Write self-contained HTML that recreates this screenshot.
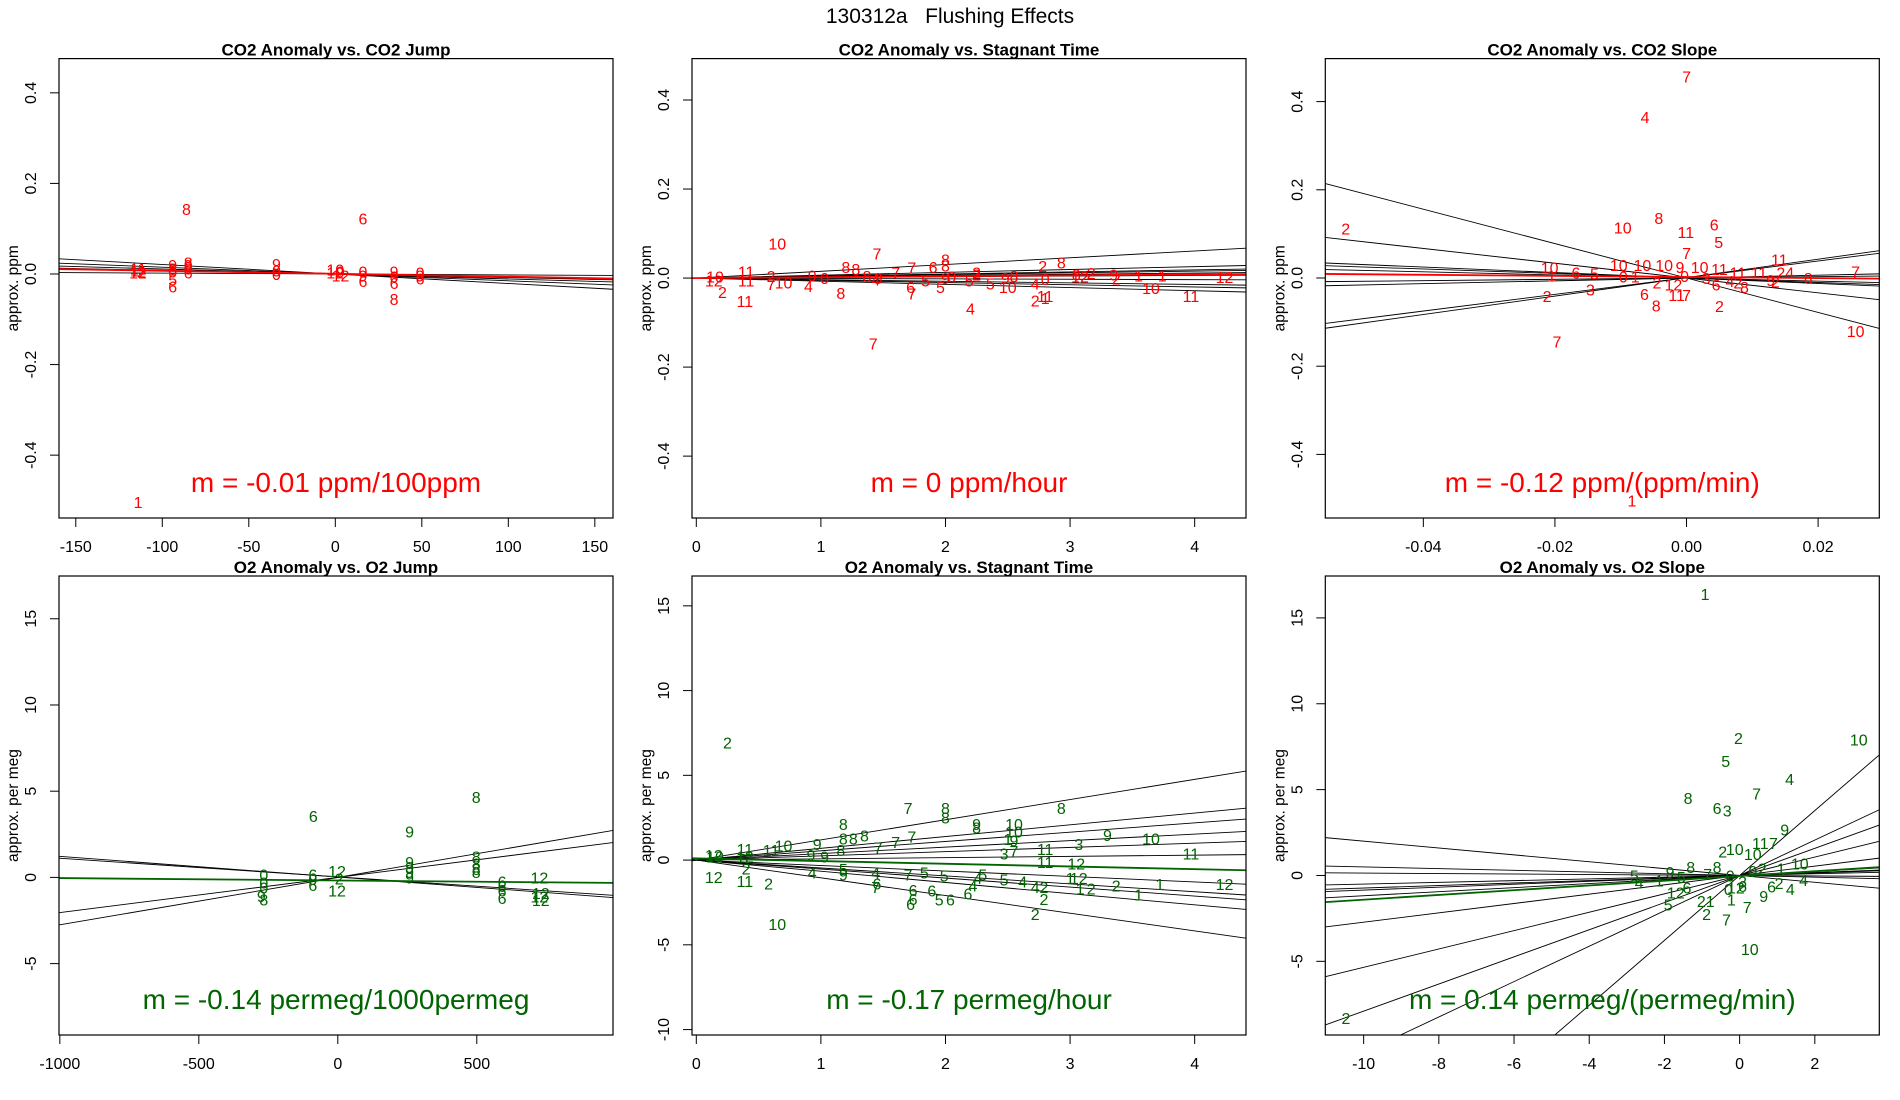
<!DOCTYPE html>
<html><head><meta charset="utf-8"><style>
html,body{margin:0;padding:0;background:#fff;width:1900px;height:1100px;overflow:hidden;}
svg{display:block;font-family:"Liberation Sans",sans-serif;}
</style></head><body>
<svg id="chart" width="1900" height="1100" viewBox="0 0 1900 1100" xmlns="http://www.w3.org/2000/svg">
<rect x="0" y="0" width="1900" height="1100" fill="#fff"/>
<text x="950" y="23" font-size="21" text-anchor="middle" style="white-space:pre">130312a   Flushing Effects</text>
</svg>
<script>
// ---- Panel 1: CO2 anomaly vs CO2 jump ----
const p1Labels=["1","8","6","8","6","5","11","12","2","1","8","9","0","9","0","6","8","9","0","0","12","10","9","12","9","6","0","9","0","6","9","0","6"];
const p1X=[-114,-86,16,34,-94,-94,-114,-114,-112,-116,-94,-94,-94,-85,-85,-85,-85,-34,-34,-34,0,0,3,3,16,16,16,34,34,34,49,49,49];
const p1Y=[-0.503,0.143,0.123,-0.055,-0.028,-0.012,0.012,0.003,0.006,0.008,0.012,0.02,0.005,0.02,0.012,0.003,0.025,0.022,0.008,0.0,0.003,0.01,0.005,-0.003,-0.003,-0.015,0.005,0.005,-0.005,-0.02,-0.003,0.003,-0.01];
const p1Slopes=[-0.00021,-0.00015,-0.00011,-0.00008,-0.00002];
const p1Ints=[0,0,0,0,0];
const p1Fit=[-0.000065,0.0005];
const p1XTicks=[-150,-100,-50,0,50,100,150];
const p1YTicks=[-0.4,-0.2,0.0,0.2,0.4];
const p1YTickLabels=["-0.4","-0.2","0.0","0.2","0.4"];

// ---- Panel 2: CO2 anomaly vs stagnant time ----
const p2Labels=["10","7","7","4","11","2","8","8","2","10","11","12","1","1","2","2","2","1","11","4","10","5","5","5","5","6","8","8","7","7","6","7","8","8","12","10","11","11","2","10","7","4","9","0","9","8","4","9","0","2","2","9","8","0","8","12","9"];
const p2X=[0.65,1.45,1.42,2.2,0.39,0.21,1.16,2.93,2.78,3.65,3.97,4.24,3.55,3.74,3.17,3.37,2.72,2.8,2.8,2.72,2.5,2.36,2.19,1.96,1.84,1.9,2.0,2.0,1.6,1.73,1.72,1.73,1.28,1.2,0.14,0.15,0.4,0.4,0.6,0.7,0.6,0.9,0.93,1.03,1.46,1.37,1.44,2.0,2.05,2.25,2.25,2.48,2.55,2.8,3.05,3.08,3.35];
const p2Y=[0.078,0.055,-0.147,-0.068,-0.052,-0.031,-0.034,0.035,0.027,-0.022,-0.04,0.002,0.006,0.006,0.011,-0.001,-0.05,-0.045,-0.04,-0.012,-0.02,-0.012,-0.005,-0.02,-0.005,0.025,0.042,0.028,0.013,-0.035,-0.02,0.024,0.02,0.025,-0.005,0.003,0.015,-0.005,0.005,-0.01,-0.013,-0.018,0.006,0.0,0.0,0.005,-0.003,0.0,0.003,0.013,0.008,0.0,0.005,-0.002,0.008,0.003,0.008];
const p2Slopes=[0.0152,0.0064,0.0046,0.0039,0.0028,0.0015,-0.0009,-0.0036,-0.005,-0.0071];
const p2Ints=[0,0,0,0,0,0,0,0,0,0];
const p2Fit=[0.002,0.0];
const p2XTicks=[0,1,2,3,4];
const p2YTicks=[-0.4,-0.2,0.0,0.2,0.4];
const p2YTickLabels=["-0.4","-0.2","0.0","0.2","0.4"];

// ---- Panel 3: CO2 anomaly vs CO2 slope ----
const p3Labels=["7","4","8","10","11","6","5","2","7","10","11","10","7","2","8","2","6","3","1","7","24","8","1","6","5","10","10","10","9","10","11","11","11","7","11","6","8","9","2","0","1","2","12","0","3","4","2"];
const p3X=[0.0,-0.0063,-0.0042,-0.0097,-0.0001,0.0042,0.0049,-0.0518,0.0,-0.0208,0.0141,0.0257,-0.0197,-0.0212,-0.0046,0.005,-0.0064,-0.0146,-0.0083,0.0257,0.015,0.0185,-0.0205,-0.0168,-0.014,-0.0103,-0.0067,-0.0034,-0.001,0.002,0.005,0.0078,0.011,0.0,-0.0015,0.0045,0.0088,0.0128,0.0135,-0.0096,-0.0078,-0.0045,-0.002,-0.0003,0.003,0.0066,0.0078];
const p3Y=[0.457,0.365,0.136,0.114,0.104,0.121,0.082,0.112,0.057,0.024,0.042,-0.12,-0.144,-0.041,-0.062,-0.063,-0.036,-0.026,-0.505,0.015,0.012,0.0,0.006,0.013,0.01,0.03,0.03,0.03,0.025,0.025,0.02,0.012,0.012,-0.038,-0.038,-0.015,-0.02,-0.005,-0.008,0.003,0.003,-0.01,-0.015,0.005,0.0,-0.007,-0.01];
const p3Slopes=[-3.9,-1.675,1.89,2.09,-0.62,-0.51,-0.35,0.15,0.32];
const p3Ints=[0,0,0.0007,0.0008,0,0,0,0,0];
const p3Fit=[-0.126,0.0023];
const p3XTicks=[-0.04,-0.02,0.0,0.02];
const p3XTickLabels=["-0.04","-0.02","0.00","0.02"];
const p3YTicks=[-0.4,-0.2,0.0,0.2,0.4];
const p3YTickLabels=["-0.4","-0.2","0.0","0.2","0.4"];

// ---- Panel 4: O2 anomaly vs O2 jump ----
const p4Labels=["6","8","9","9","8","0","0","0","6","6","0","12","12","2","9","9","9","9","8","8","8","8","6","6","6","6","12","12","12","12"];
const p4X=[-88,498,258,-275,-266,-266,-266,-266,-90,-90,-90,-3,-3,5,258,258,258,258,498,498,498,498,591,591,591,591,725,725,730,730];
const p4Y=[3.57,4.66,2.67,-1.08,-1.28,0.17,-0.3,-0.6,-0.45,0.17,-0.1,0.38,-0.77,-0.05,0.9,0.6,0.3,0.0,1.22,0.8,0.5,0.3,-0.24,-0.5,-0.77,-1.19,0.0,-1.1,-1.3,-0.9];
const p4Slopes=[-0.0012,-0.00108,0.00204,0.00275];
const p4Ints=[0.02,0.03,0.0,0.0];
const p4Fit=[-0.00014,-0.18];
const p4XTicks=[-1000,-500,0,500];
const p4YTicks=[-5,0,5,10,15];

// ---- Panel 5: O2 anomaly vs stagnant time ----
const p5Labels=["2","10","8","7","8","8","9","10","11","12","1","1","2","2","2","2","4","2","12","12","1","1","11","11","3","3","7","10","10","1","9","9","8","4","5","5","4","4","6","6","6","5","6","6","6","5","5","7","4","6","7","7","7","7","8","8","8","8","8","5","9","9","9","4","9","10","11","2","11","11","12","2","12","12","10"];
const p5X=[0.25,0.65,2.93,1.7,2.0,2.0,3.3,3.65,3.97,4.24,3.72,3.55,3.37,3.17,2.72,2.79,2.72,2.79,3.05,3.07,3.0,3.08,2.8,2.8,3.07,2.47,2.55,2.55,2.55,2.5,2.55,2.25,2.25,2.62,2.47,2.3,2.26,2.22,2.18,1.89,2.04,1.95,1.72,1.74,1.74,1.83,1.99,1.7,1.44,1.45,1.44,1.46,1.6,1.73,1.35,1.26,1.18,1.18,1.16,1.18,1.18,0.97,1.03,0.93,0.92,0.7,0.6,0.58,0.39,0.39,0.39,0.4,0.14,0.14,0.15];
const p5Y=[6.94,-3.78,3.07,3.07,3.07,2.5,1.48,1.27,0.38,-1.42,-1.42,-2.02,-1.49,-1.69,-3.19,-2.3,-1.6,-1.6,-0.21,-1.06,-1.06,-1.69,-0.1,0.64,0.96,0.38,0.53,2.12,1.7,1.23,1.16,2.12,1.91,-1.27,-1.16,-0.84,-1.06,-1.49,-1.97,-1.8,-2.33,-2.33,-2.6,-1.76,-2.3,-0.73,-0.9,-0.84,-0.73,-1.37,-1.6,0.75,1.06,1.38,1.45,1.27,2.12,1.27,0.6,-0.52,-0.84,0.96,0.2,-0.73,0.3,0.85,0.6,-1.37,-1.23,0.64,0.2,-0.5,-1.0,0.3,0.2];
const p5Slopes=[1.19,0.694,0.549,0.383,0.249,0.073,-0.322,-0.467,-0.531,-0.66,-1.045];
const p5Ints=[0,0,0,0,0,0,0,0,0,0,0];
const p5Fit=[-0.159,0.1];
const p5XTicks=[0,1,2,3,4];
const p5YTicks=[-10,-5,0,5,10,15];

// ---- Panel 6: O2 anomaly vs O2 slope ----
const p6Labels=["1","2","10","5","4","7","8","6","3","9","11","7","2","10","10","10","2","7","7","2","1","21","5","12","1","5","4","9","6","2","4","4","10","1","8","9","5","7","8","6","0","3","0","2","6","0","12"];
const p6X=[-0.92,-0.03,3.17,-0.37,1.33,0.45,-1.37,-0.6,-0.33,1.2,0.55,0.9,-0.45,-0.13,0.35,0.27,-10.47,-0.35,0.2,-0.88,-0.22,-0.9,-1.9,-1.7,-2.14,-2.8,-2.67,0.64,0.85,1.05,1.35,1.7,1.6,1.1,-1.3,-1.85,-1.55,-0.85,-0.6,-1.4,-0.25,0.08,0.35,0.6,0.08,-0.3,-0.1];
const p6Y=[16.4,8.02,7.91,6.66,5.61,4.78,4.5,3.94,3.77,2.68,1.9,1.9,1.4,1.55,1.24,-4.29,-8.31,-2.56,-1.83,-2.25,-1.4,-1.5,-1.7,-1.0,-0.3,0.0,-0.4,-1.2,-0.65,-0.45,-0.8,-0.25,0.7,0.4,0.5,0.2,-0.1,0.1,0.5,-0.7,0.0,-0.35,0.25,0.4,-0.6,-0.8,-0.7];
const p6Slopes=[1.89,1.03,0.79,0.535,0.272,0.118,0.073,0.085,0.05,-0.2,-0.05,-0.014];
const p6Ints=[0,0,0,0,0,0,0,0,0,0,0,0];
const p6Fit=[0.138,-0.03];
const p6XTicks=[-10,-8,-6,-4,-2,0,2];
const p6YTicks=[-5,0,5,10,15];

const NS="http://www.w3.org/2000/svg";
const svg=document.getElementById('chart');
function mk(tag,attrs,parent){const e=document.createElementNS(NS,tag);for(const k in attrs)e.setAttribute(k,attrs[k]);(parent||svg).appendChild(e);return e;}

// returns [xa,xb] range of x where line stays within y domain
function clipRange(s,b,xd,yd){
  let xa=xd[0], xb=xd[1];
  if(s!==0){
    let u=(yd[0]-b)/s, v=(yd[1]-b)/s;
    const lo=Math.min(u,v), hi=Math.max(u,v);
    xa=Math.max(xa,lo); xb=Math.min(xb,hi);
  }
  return [xa,xb];
}

function panel(id,L,T,W,H,xd,yd,title,ylab,col,mtext,labels,xs,ys,slopes,ints,fit,xt,xtl,yt,ytl){
  const B=T+H;
  const sx=v=>L+(v-xd[0])/(xd[1]-xd[0])*W;
  const sy=v=>B-(v-yd[0])/(yd[1]-yd[0])*H;
  const g=mk('g',{});
  
  
  const cp=mk('clipPath',{id:'clip'+id},g);
  mk('rect',{x:L,y:T,width:W,height:H},cp);
  const t=mk('text',{x:L+W/2,y:T-3,'font-size':17,'font-weight':'bold','text-anchor':'middle'},g);
  t.textContent=title;
  
  
  const yl=mk('text',{x:0,y:0,'font-size':15.5,'text-anchor':'middle',transform:`translate(${L-41},${T+H/2}) rotate(-90)`},g);
  yl.textContent=ylab;
  
  
  const xa=mk('g',{},g);
  
  
  mk('line',{x1:sx(xt[0]),x2:sx(xt[xt.length-1]),y1:B,y2:B,stroke:'#000','stroke-width':1},xa);
  xt.forEach((v,i)=>{
    mk('line',{x1:sx(v),x2:sx(v),y1:B,y2:B+9,stroke:'#000','stroke-width':1},xa);
    const tl=mk('text',{x:sx(v),y:B+34,'font-size':16,'text-anchor':'middle'},xa);
    tl.textContent=xtl?xtl[i]:String(v);
    
    
  });
  const ya=mk('g',{},g);
  
  
  yt.forEach((v,i)=>{
    mk('line',{x1:L-9,x2:L,y1:sy(v),y2:sy(v),stroke:'#000','stroke-width':1},ya);
    const tl=mk('text',{x:0,y:0,'font-size':16,'text-anchor':'middle',transform:`translate(${L-23},${sy(v)}) rotate(-90)`},ya);
    tl.textContent=ytl?ytl[i]:String(v);
    
    
  });
  const inner=mk('g',{'clip-path':`url(#clip${id})`},g);
  slopes.forEach((s,i)=>{
    const r=clipRange(s,ints[i],xd,yd);
    const l=mk('line',{x1:sx(r[0]),y1:sy(ints[i]+s*r[0]),x2:sx(r[1]),y2:sy(ints[i]+s*r[1]),stroke:'#000','stroke-width':0.9},inner);
    
    
  });
  labels.forEach((lb,i)=>{
    const p=mk('text',{x:sx(xs[i]),y:sy(ys[i])+6,'font-size':16,'text-anchor':'middle',fill:col},inner);
    p.textContent=lb;
    
    
  });
  const fr=clipRange(fit[0],fit[1],xd,yd);
  const f=mk('line',{x1:sx(fr[0]),y1:sy(fit[1]+fit[0]*fr[0]),x2:sx(fr[1]),y2:sy(fit[1]+fit[0]*fr[1]),stroke:col,'stroke-width':1.8},inner);
  
  
  const m=mk('text',{x:L+W/2,y:T+H-26,'font-size':28,'text-anchor':'middle',fill:col},g);
  m.textContent=mtext;
  
  
  const box=mk('rect',{x:L,y:T,width:W,height:H,fill:'none',stroke:'#000','stroke-width':1.2},g);
  
  
}
const W=554, TT=58.6, TH=459.4, BT=576, BH=459;
const RED='#ff0000', GRN='#006400';
panel(1,59,TT,W,TH,[-159.7,160.5],[-0.5388,0.4756],'CO2 Anomaly vs. CO2 Jump','approx. ppm',RED,'m = -0.01 ppm/100ppm',p1Labels,p1X,p1Y,p1Slopes,p1Ints,p1Fit,p1XTicks,null,p1YTicks,p1YTickLabels);
panel(2,692,TT,W,TH,[-0.0345,4.412],[-0.539,0.493],'CO2 Anomaly vs. Stagnant Time','approx. ppm',RED,'m = 0 ppm/hour',p2Labels,p2X,p2Y,p2Slopes,p2Ints,p2Fit,p2XTicks,null,p2YTicks,p2YTickLabels);
panel(3,1325.3,TT,W,TH,[-0.0549,0.0293],[-0.5442,0.4975],'CO2 Anomaly vs. CO2 Slope','approx. ppm',RED,'m = -0.12 ppm/(ppm/min)',p3Labels,p3X,p3Y,p3Slopes,p3Ints,p3Fit,p3XTicks,p3XTickLabels,p3YTicks,p3YTickLabels);
panel(4,59,BT,W,BH,[-1003,990],[-9.14,17.48],'O2 Anomaly vs. O2 Jump','approx. per meg',GRN,'m = -0.14 permeg/1000permeg',p4Labels,p4X,p4Y,p4Slopes,p4Ints,p4Fit,p4XTicks,null,p4YTicks,null);
panel(5,692,BT,W,BH,[-0.0345,4.412],[-10.32,16.76],'O2 Anomaly vs. Stagnant Time','approx. per meg',GRN,'m = -0.17 permeg/hour',p5Labels,p5X,p5Y,p5Slopes,p5Ints,p5Fit,p5XTicks,null,p5YTicks,null);
panel(6,1325.3,BT,W,BH,[-11.02,3.715],[-9.29,17.44],'O2 Anomaly vs. O2 Slope','approx. per meg',GRN,'m = 0.14 permeg/(permeg/min)',p6Labels,p6X,p6Y,p6Slopes,p6Ints,p6Fit,p6XTicks,null,p6YTicks,null);
</script>
</body></html>
